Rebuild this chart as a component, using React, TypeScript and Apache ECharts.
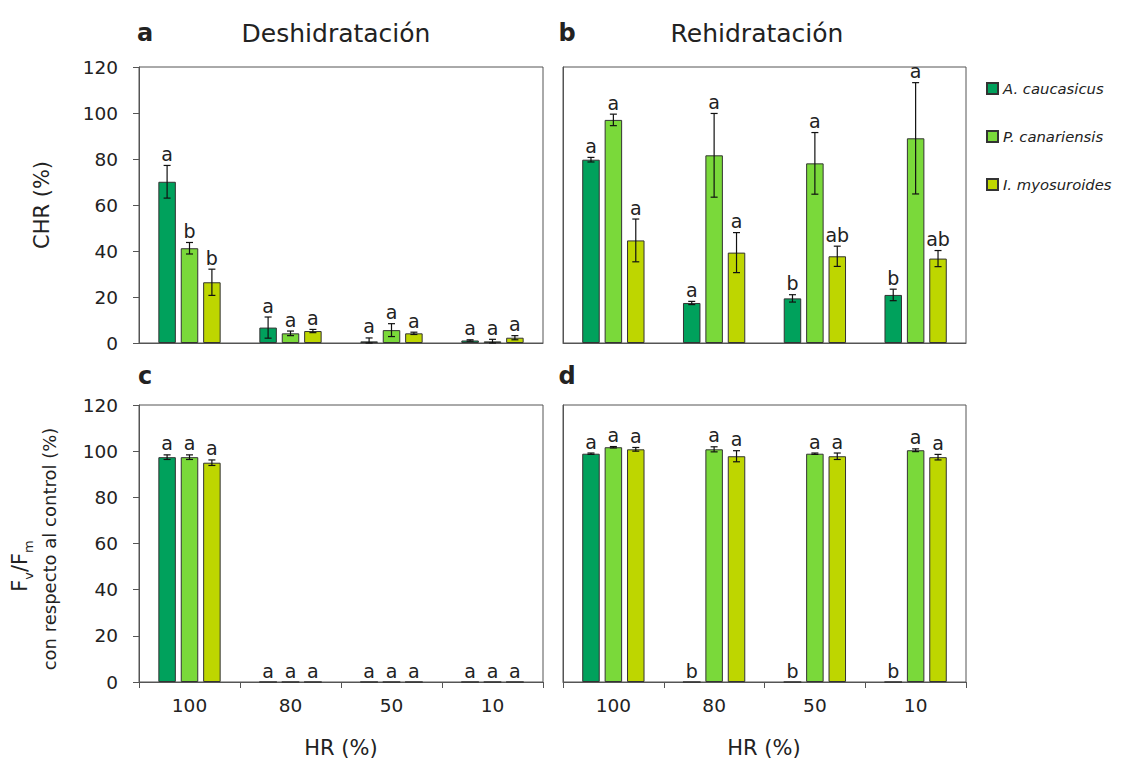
import React, { useEffect, useRef } from 'react';
import * as echarts from 'echarts';

const categories = ['100', '80', '50', '10'];
const species = ['A. caucasicus', 'P. canariensis', 'I. myosuroides'];
const colors = ['#00A15C', '#7AD93A', '#BED600'];

// CHR, Deshidratación (a)
const chrDeshAc = [70.1, 6.7, 0.7, 1.1];
const chrDeshAcErr = [7.1, 4.6, 1.5, 0.3];
const chrDeshAcLet = ['a', 'a', 'a', 'a'];
const chrDeshPc = [41.2, 4.2, 5.6, 0.7];
const chrDeshPcErr = [2.5, 1.0, 2.8, 0.9];
const chrDeshPcLet = ['b', 'a', 'a', 'a'];
const chrDeshIm = [26.4, 5.2, 4.2, 2.3];
const chrDeshImErr = [5.7, 0.7, 0.5, 0.9];
const chrDeshImLet = ['b', 'a', 'a', 'a'];

// CHR, Rehidratación (b)
const chrRehAc = [79.7, 17.4, 19.4, 20.9];
const chrRehAcErr = [1.0, 0.7, 1.6, 2.5];
const chrRehAcLet = ['a', 'a', 'b', 'b'];
const chrRehPc = [97.0, 81.6, 78.1, 89.0];
const chrRehPcErr = [2.5, 18.2, 13.4, 24.2];
const chrRehPcLet = ['a', 'a', 'a', 'a'];
const chrRehIm = [44.6, 39.3, 37.7, 36.7];
const chrRehImErr = [9.3, 8.7, 4.4, 3.5];
const chrRehImLet = ['a', 'a', 'ab', 'ab'];

// Fv/Fm, Deshidratación (c)
const fvDeshAc = [97.4, 0, 0, 0];
const fvDeshAcErr = [1.0, 0, 0, 0];
const fvDeshAcLet = ['a', 'a', 'a', 'a'];
const fvDeshPc = [97.4, 0, 0, 0];
const fvDeshPcErr = [1.0, 0, 0, 0];
const fvDeshPcLet = ['a', 'a', 'a', 'a'];
const fvDeshIm = [95.0, 0, 0, 0];
const fvDeshImErr = [1.2, 0, 0, 0];
const fvDeshImLet = ['a', 'a', 'a', 'a'];

// Fv/Fm, Rehidratación (d)
const fvRehAc = [98.9, 0, 0, 0];
const fvRehAcErr = [0.3, 0, 0, 0];
const fvRehAcLet = ['a', 'b', 'b', 'b'];
const fvRehPc = [101.7, 100.8, 98.9, 100.4];
const fvRehPcErr = [0.3, 1.1, 0.3, 0.6];
const fvRehPcLet = ['a', 'a', 'a', 'a'];
const fvRehIm = [100.8, 97.8, 97.8, 97.4];
const fvRehImErr = [0.8, 2.4, 1.4, 1.2];
const fvRehImLet = ['a', 'a', 'a', 'a'];

const yTicks = [0, 20, 40, 60, 80, 100, 120];

const FONT = '"DejaVu Sans", "Open Sans", sans-serif';
const BAR_W = 17.5;
const GAP = 0.28;
const PITCH = BAR_W * (1 + GAP);

type PanelSeries = { v: number[]; e: number[]; l: string[] };

const panels: { box: any; showX: boolean; showY: boolean; series: PanelSeries[] }[] = [
  {
    box: { left: 139, top: 67, width: 404, height: 276 },
    showX: false,
    showY: true,
    series: [
      { v: chrDeshAc, e: chrDeshAcErr, l: chrDeshAcLet },
      { v: chrDeshPc, e: chrDeshPcErr, l: chrDeshPcLet },
      { v: chrDeshIm, e: chrDeshImErr, l: chrDeshImLet },
    ],
  },
  {
    box: { left: 563, top: 67, width: 403, height: 276 },
    showX: false,
    showY: false,
    series: [
      { v: chrRehAc, e: chrRehAcErr, l: chrRehAcLet },
      { v: chrRehPc, e: chrRehPcErr, l: chrRehPcLet },
      { v: chrRehIm, e: chrRehImErr, l: chrRehImLet },
    ],
  },
  {
    box: { left: 139, top: 405, width: 404, height: 277 },
    showX: true,
    showY: true,
    series: [
      { v: fvDeshAc, e: fvDeshAcErr, l: fvDeshAcLet },
      { v: fvDeshPc, e: fvDeshPcErr, l: fvDeshPcLet },
      { v: fvDeshIm, e: fvDeshImErr, l: fvDeshImLet },
    ],
  },
  {
    box: { left: 563, top: 405, width: 403, height: 277 },
    showX: true,
    showY: false,
    series: [
      { v: fvRehAc, e: fvRehAcErr, l: fvRehAcLet },
      { v: fvRehPc, e: fvRehPcErr, l: fvRehPcLet },
      { v: fvRehIm, e: fvRehImErr, l: fvRehImLet },
    ],
  },
];

function buildOption() {
  const grid = panels.map((p) => ({
    ...p.box,
    show: true,
    borderColor: '#555',
    borderWidth: 1,
    backgroundColor: 'transparent',
  }));
  const xAxis = panels.map((p, i) => ({
    type: 'category',
    gridIndex: i,
    data: categories,
    boundaryGap: true,
    axisLine: { show: true, lineStyle: { color: '#555', width: 1 } },
    axisTick: { show: p.showX, length: 6, lineStyle: { color: '#555' } },
    axisLabel: { show: p.showX, fontSize: 18.5, color: '#222', margin: 14, fontFamily: FONT },
    splitLine: { show: false },
  }));
  const yAxis = panels.map((p, i) => ({
    type: 'value',
    gridIndex: i,
    min: yTicks[0],
    max: yTicks[yTicks.length - 1],
    interval: yTicks[1] - yTicks[0],
    axisLine: { show: true, lineStyle: { color: '#555', width: 1 } },
    axisTick: { show: p.showY, length: 6, lineStyle: { color: '#555' } },
    axisLabel: { show: p.showY, fontSize: 18.5, color: '#222', margin: 21, fontFamily: FONT },
    splitLine: { show: false },
  }));
  const series: any[] = [];
  panels.forEach((p, pi) => {
    p.series.forEach((s, si) => {
      series.push({
        type: 'bar',
        name: species[si],
        xAxisIndex: pi,
        yAxisIndex: pi,
        data: s.v,
        barWidth: BAR_W,
        barGap: GAP * 100 + '%',
        itemStyle: { color: colors[si], borderColor: '#333', borderWidth: 1 },
      });
    });
    p.series.forEach((s, si) => {
      series.push({
        type: 'custom',
        xAxisIndex: pi,
        yAxisIndex: pi,
        z: 5,
        clip: false,
        data: s.v.map((v, i) => [i, v, s.e[i]]),
        renderItem: (params: any, api: any) => {
          const ci = api.value(0);
          const v = api.value(1);
          const e = api.value(2);
          const x = api.coord([ci, v])[0] + (si - 1) * PITCH;
          const top = api.coord([ci, v + e])[1];
          const bot = api.coord([ci, Math.max(0, v - e)])[1];
          const children: any[] = [];
          const ls = { stroke: '#111', lineWidth: 1.2 };
          if (e > 0) {
            children.push({ type: 'line', shape: { x1: x, y1: top, x2: x, y2: bot }, style: ls });
            children.push({ type: 'line', shape: { x1: x - 3.5, y1: top, x2: x + 3.5, y2: top }, style: ls });
            children.push({ type: 'line', shape: { x1: x - 3.5, y1: bot, x2: x + 3.5, y2: bot }, style: ls });
          }
          children.push({
            type: 'text',
            x,
            y: top - 2,
            style: {
              text: s.l[params.dataIndex],
              fontSize: 19,
              fontFamily: FONT,
              fill: '#222',
              align: 'center',
              verticalAlign: 'bottom',
            },
          });
          return { type: 'group', children };
        },
      });
    });
  });

  const txt = (x: number, y: number, text: string, extra: any = {}, rotation = 0) => ({
    type: 'text',
    x,
    y,
    rotation,
    style: {
      text,
      fontSize: 21,
      fontFamily: FONT,
      fill: '#222',
      align: 'center',
      verticalAlign: 'middle',
      ...extra,
    },
  });

  const graphic = [
    txt(145, 33, 'a', { fontWeight: 'bold', fontSize: 24 }),
    txt(336, 33, 'Deshidratación', { fontSize: 25 }),
    txt(567, 33, 'b', { fontWeight: 'bold', fontSize: 24 }),
    txt(757, 33, 'Rehidratación', { fontSize: 25 }),
    txt(145, 376, 'c', { fontWeight: 'bold', fontSize: 24 }),
    txt(567, 376, 'd', { fontWeight: 'bold', fontSize: 24 }),
    txt(42, 205, 'CHR (%)', { fontSize: 21 }, Math.PI / 2),
    {
      type: 'text',
      x: 22,
      y: 566,
      rotation: Math.PI / 2,
      style: {
        text: '{f|F}{s|v}{f|/F}{s|m}',
        fontFamily: FONT,
        fill: '#222',
        align: 'center',
        verticalAlign: 'middle',
        rich: {
          f: { fontSize: 21, fontFamily: FONT, fill: '#222', padding: [0, 0, 5, 0], verticalAlign: 'bottom' },
          s: { fontSize: 13, fontFamily: FONT, fill: '#222', verticalAlign: 'bottom' },
        },
      },
    },
    txt(49, 549, 'con respecto al control (%)', { fontSize: 18 }, Math.PI / 2),
    txt(341, 748, 'HR (%)', { fontSize: 21 }),
    txt(764, 748, 'HR (%)', { fontSize: 21 }),
  ];

  return {
    animation: false,
    backgroundColor: '#fff',
    textStyle: { fontFamily: FONT },
    grid,
    xAxis,
    yAxis,
    legend: {
      data: species,
      orient: 'vertical',
      left: 986,
      top: 81,
      padding: 0,
      itemWidth: 11,
      itemHeight: 11,
      itemGap: 33,
      icon: 'rect',
      textStyle: { fontSize: 14.8, fontStyle: 'italic', color: '#222', fontFamily: FONT },
    },
    graphic,
    series,
  };
}

export default function App() {
  const ref = useRef<HTMLDivElement>(null);
  useEffect(() => {
    const chart = echarts.init(ref.current!, null, { renderer: 'svg' });
    chart.setOption(buildOption() as any);
    return () => chart.dispose();
  }, []);
  return (
    <div
      ref={ref}
      style={{ position: 'fixed', left: 0, top: 0, width: 1122, height: 763, background: '#fff' }}
    />
  );
}
